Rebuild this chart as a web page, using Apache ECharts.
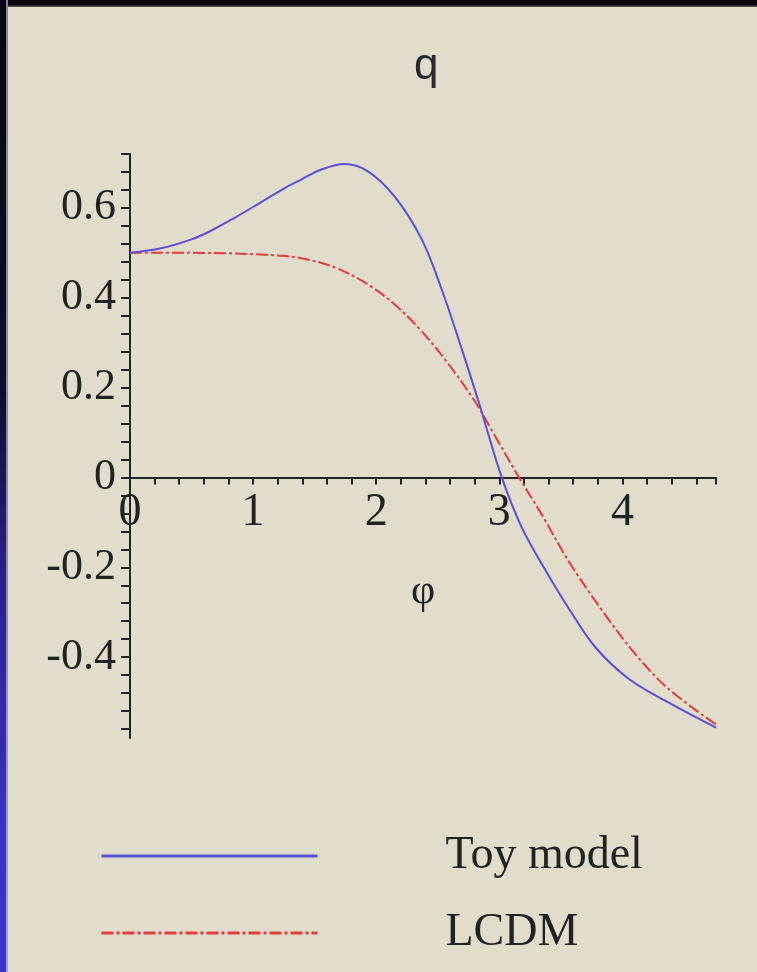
<!DOCTYPE html>
<html>
<head>
<meta charset="utf-8">
<script src="https://cdn.jsdelivr.net/npm/echarts@6/dist/echarts.min.js"></script>
<style>
  html, body { margin: 0; padding: 0; background: #e2dccd; }
  #wrap { position: relative; width: 757px; height: 972px; overflow: hidden; background: #e2dccd; }
  #chart { position: absolute; left: 0; top: 0; width: 757px; height: 972px; }
  #topband { position: absolute; left: 0; top: 0; width: 757px; height: 7px;
    background: linear-gradient(to bottom, #0c0612 0, #0c0612 5px, #6e6a6c 7px); z-index: 2; }
  #leftband { position: absolute; left: 0; top: 0; width: 6px; height: 972px;
    background: linear-gradient(to bottom, #0c0612 0%, #120c2a 40%, #2a2090 60%, #3a32c4 85%, #3c34c8 100%); z-index: 2; }
  #leftedge { position: absolute; left: 6px; top: 0; width: 2px; height: 972px;
    background: linear-gradient(to bottom, #8a8494 0%, #8c86b0 50%, #a49ee0 100%); z-index: 2; }
</style>
</head>
<body>
<div id="wrap">
  <div id="chart"></div>
  <div id="topband"></div>
  <div id="leftband"></div>
  <div id="leftedge"></div>
</div>
<script>
// --- data ---
const toyPhi = [0, 0.25, 0.5, 0.65, 0.85, 1.06, 1.25, 1.39, 1.55, 1.74, 1.93, 2.15, 2.37, 2.53, 2.69, 2.83, 3.02, 3.18, 3.35, 3.56, 3.78, 4.05, 4.38, 4.76];
const toyQ   = [0.5, 0.51, 0.53, 0.548, 0.578, 0.612, 0.643, 0.663, 0.685, 0.698, 0.682, 0.625, 0.53, 0.42, 0.29, 0.17, 0.0, -0.11, -0.195, -0.29, -0.378, -0.448, -0.502, -0.557];

const lcdmPhi = [0, 0.5, 0.8, 1.0, 1.2, 1.39, 1.66, 1.93, 2.15, 2.37, 2.58, 2.80, 2.97, 3.16, 3.35, 3.56, 3.84, 4.11, 4.38, 4.76];
const lcdmQ   = [0.5, 0.5, 0.499, 0.497, 0.494, 0.488, 0.468, 0.43, 0.385, 0.325, 0.255, 0.17, 0.09, 0.0, -0.085, -0.185, -0.298, -0.395, -0.472, -0.55];

const seriesNames = ['Toy model', 'LCDM'];

const xTicks = [0,0.2,0.4,0.6,0.8,1,1.2,1.4,1.6,1.8,2,2.2,2.4,2.6,2.8,3,3.2,3.4,3.6,3.8,4,4.2,4.4,4.6,4.76];
const xLabels = [0, 1, 2, 3, 4];
const yTicks = [-0.56,-0.52,-0.48,-0.44,-0.4,-0.36,-0.32,-0.28,-0.24,-0.2,-0.16,-0.12,-0.08,-0.04,0,0.04,0.08,0.12,0.16,0.2,0.24,0.28,0.32,0.36,0.4,0.44,0.48,0.52,0.56,0.6,0.64,0.68,0.72];
const yLabels = [-0.4, -0.2, 0, 0.2, 0.4, 0.6];

const Y_MIN = -0.58, Y_MAX = 0.72;

const pairs = (xs, ys) => xs.map((x, i) => [x, ys[i]]);

const serif = 'Liberation Serif';
const ink = '#222222';

const GRID_TOP = 154, GRID_BOTTOM = 234, H = 972;
const plotH = H - GRID_TOP - GRID_BOTTOM;
// lift the x axis (line, ticks, labels, name) from the grid bottom to q = 0
const xAxisOffset = -plotH * (0 - Y_MIN) / (Y_MAX - Y_MIN);

const chart = echarts.init(document.getElementById('chart'), null, { renderer: 'canvas' });
chart.setOption({
  backgroundColor: '#e2dccd',
  animation: false,
  title: {
    text: 'q',
    left: 409, top: 40,
    textStyle: { fontFamily: 'Liberation Sans', fontSize: 44, fontWeight: 'normal', color: '#2a2830' }
  },
  grid: { left: 130, right: 41, top: GRID_TOP, bottom: GRID_BOTTOM, containLabel: false },
  xAxis: {
    type: 'value',
    min: 0, max: 4.76,
    position: 'bottom',
    offset: xAxisOffset,
    name: 'φ',
    nameLocation: 'middle',
    nameGap: 94,
    nameTextStyle: { fontFamily: serif, fontSize: 42, color: ink },
    axisLine: { show: true, onZero: false, lineStyle: { color: ink, width: 2 } },
    axisTick: { show: true, inside: false, length: 7, customValues: xTicks, lineStyle: { color: ink, width: 2 } },
    axisLabel: {
      customValues: xLabels, margin: 12,
      fontFamily: serif, fontSize: 46, lineHeight: 46, color: ink,
      formatter: v => String(v)
    },
    splitLine: { show: false }
  },
  yAxis: {
    type: 'value',
    min: Y_MIN, max: Y_MAX,
    axisLine: { show: true, onZero: false, lineStyle: { color: ink, width: 2 } },
    axisTick: { show: true, inside: false, length: 9, customValues: yTicks, lineStyle: { color: ink, width: 2 } },
    axisLabel: {
      customValues: yLabels, margin: 14,
      fontFamily: serif, fontSize: 44, color: ink,
      formatter: v => (Math.abs(v) < 1e-9 ? '0' : String(v))
    },
    splitLine: { show: false }
  },
  legend: {
    orient: 'vertical',
    left: 100, top: 831, padding: 0,
    itemWidth: 216, itemHeight: 14, itemGap: 27,
    data: seriesNames,
    itemStyle: { opacity: 0 },
    lineStyle: { width: 3 },
    textStyle: { fontFamily: serif, fontSize: 46, lineHeight: 50, color: ink, padding: [0, 0, 0, 123] }
  },
  series: [
    {
      name: seriesNames[0], type: 'line', data: pairs(toyPhi, toyQ),
      smooth: 0.35, symbol: 'none', z: 3,
      lineStyle: { color: '#5a4fd6', width: 2 },
      itemStyle: { color: '#5a4fd6' }
    },
    {
      name: seriesNames[1], type: 'line', data: pairs(lcdmPhi, lcdmQ),
      smooth: 0.35, symbol: 'none', z: 2,
      lineStyle: { color: '#e23c3c', width: 2, type: [12, 3, 3, 3] },
      itemStyle: { color: '#e23c3c' }
    }
  ]
});
</script>
</body>
</html>
